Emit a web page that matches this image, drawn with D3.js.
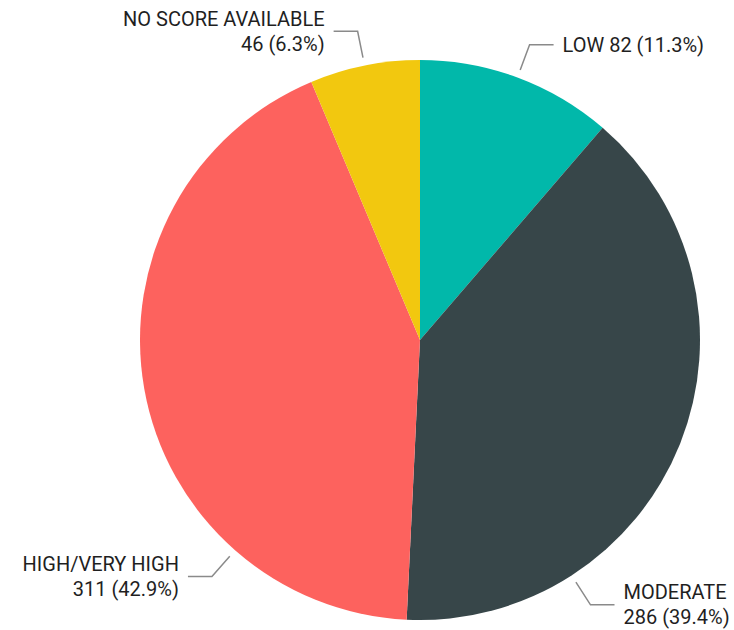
<!DOCTYPE html>
<html>
<head>
<meta charset="utf-8">
<script src="https://cdn.jsdelivr.net/npm/d3@7"></script>
<style>
  body { margin: 0; background: #fff; }
  text { font-family: Roboto, "DejaVu Sans", sans-serif; fill: #1f1f1f; }
</style>
</head>
<body>
<div id="vis"></div>
<script>
'use strict';

//data
var categories = ['LOW', 'MODERATE', 'HIGH/VERY HIGH', 'NO SCORE AVAILABLE'];
var counts = [82, 286, 311, 46];
var colors = ['#01B8AA', '#374649', '#FD625E', '#F2C80F'];

//layout
var width = 734, height = 630;
var center = { x: 420, y: 340 };
var radius = 280;
var lineStart = 288, lineElbow = 315, lineRun = 24, textGap = 9;
var fontSize = 20, lineHeight = 25;
//where along each slice the leader line sits (0 = start, 1 = end)
var labelSpot = [0.5, 0.75, 0.25, 0.5];
//single line labels
var oneLine = [true, false, false, false];

var total = d3.sum(counts);
var pct = d3.format('.1%');
var data = categories.map(function (c, i) {
    return { name: c, value: counts[i], color: colors[i], i: i };
});

var svg = d3.select('#vis')
    .append('svg')
    .attr('width', width)
    .attr('height', height);

var g = svg.append('g')
    .attr('transform', 'translate(' + center.x + ', ' + center.y + ')');

var pie = d3.pie().sort(null).value(function (d) { return d.value; });
var arc = d3.arc().innerRadius(0).outerRadius(radius);
var arcs = pie(data);

g.selectAll('.slice')
    .data(arcs)
    .enter()
    .append('path')
    .attr('class', 'slice')
    .attr('d', arc)
    .style('fill', function (d) { return d.data.color; });

function polar(r, a) {
    return [r * Math.sin(a), -r * Math.cos(a)];
}

arcs.forEach(function (d) {
    var i = d.data.i;
    var a = d.startAngle + (d.endAngle - d.startAngle) * labelSpot[i];
    var p0 = polar(lineStart, a);
    var p1 = polar(lineElbow, a);
    var side = p1[0] >= 0 ? 1 : -1;
    var p2 = [p1[0] + side * lineRun, p1[1]];

    g.append('polyline')
        .attr('points', [p0, p1, p2].map(function (p) { return p.join(','); }).join(' '))
        .style('fill', 'none')
        .style('stroke', '#8a8a8a')
        .style('stroke-width', 1.5);

    var label = g.append('text')
        .attr('x', p2[0] + side * textGap)
        .attr('y', p2[1])
        .attr('text-anchor', side > 0 ? 'start' : 'end')
        .style('font-size', fontSize + 'px');

    var valueText = d.data.value + ' (' + pct(d.data.value / total) + ')';
    if (oneLine[i]) {
        label.append('tspan')
            .attr('x', p2[0] + side * textGap)
            .attr('dy', '0.35em')
            .text(d.data.name + ' ' + valueText);
    } else {
        label.append('tspan')
            .attr('x', p2[0] + side * textGap)
            .attr('dy', (-lineHeight / 2 + 0.35 * fontSize) + 'px')
            .text(d.data.name);
        label.append('tspan')
            .attr('x', p2[0] + side * textGap)
            .attr('dy', lineHeight + 'px')
            .text(valueText);
    }
});
</script>
</body>
</html>
